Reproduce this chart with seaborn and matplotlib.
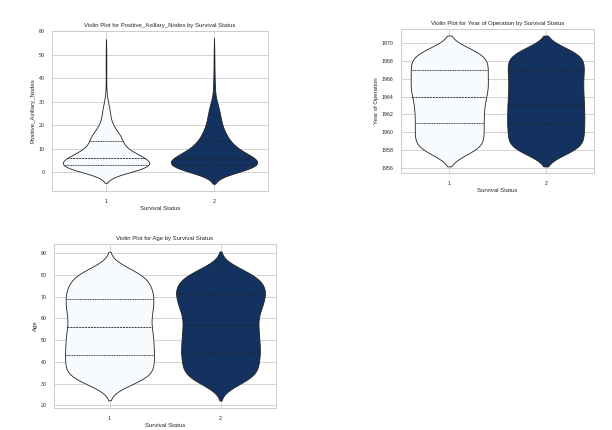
import numpy as np
import pandas as pd
import seaborn as sns
import matplotlib.pyplot as plt

sns.set_style("whitegrid")
plt.rcParams["font.family"] = ["Liberation Sans", "DejaVu Sans"]

status_levels = [1, 2]

# frequency tables (value -> number of patients)
nodes_values_1 = list(range(0, 33)) + [34, 38, 43, 47, 52]
nodes_counts_1 = [24, 30, 36, 39, 36, 33, 30, 25, 21, 18, 15, 12, 10, 14, 13, 12,
                  10, 9, 7, 6, 5, 4, 4, 3, 3, 3, 3, 3, 2, 2, 1, 1, 1, 1, 1, 1, 1, 1]
nodes_values_2 = list(range(0, 32)) + [33, 35, 37, 40, 42, 45, 48, 52]
nodes_counts_2 = [24, 30, 36, 37, 36, 36, 34, 24, 22, 20, 17, 14, 13, 12, 11, 10,
                  8, 8, 7, 7, 6, 5, 5, 5, 5, 4, 4, 4, 3, 3, 2, 2, 2, 1, 2, 1, 1, 1, 1, 1]

year_values = list(range(1958, 1970))
year_counts_1 = [62, 62, 62, 62, 62, 63, 66, 72, 68, 70, 70, 66]
year_counts_2 = [65, 65, 65, 67, 66, 66, 65, 64, 64, 66, 66, 65]

age_values = list(range(30, 84))
age_counts_1 = [19, 19, 21, 19, 21, 19, 21, 20, 21, 20,
                21, 20, 21, 20, 21, 20, 20, 21, 20, 20,
                21, 20, 20, 20, 20, 20, 19, 19, 19, 18,
                19, 19, 20, 20, 20, 20, 20, 21, 20, 21,
                20, 21, 20, 20, 20, 19, 19, 18, 18, 17,
                17, 16, 16, 15]
age_counts_2 = [16, 16, 17, 17, 17, 17, 18, 18, 18, 18,
                18, 18, 18, 18, 19, 19, 19, 19, 18, 18,
                18, 18, 18, 18, 18, 18, 18, 18, 17, 17,
                17, 17, 17, 19, 19, 20, 20, 21, 20, 20,
                20, 22, 22, 22, 22, 21, 21, 20, 19, 18,
                17, 16, 15, 14]


def long_table(column, values_1, counts_1, values_2, counts_2):
    v1 = np.repeat(values_1, counts_1)
    v2 = np.repeat(values_2, counts_2)
    return pd.DataFrame({
        "Survival_Status": [status_levels[0]] * len(v1) + [status_levels[1]] * len(v2),
        column: np.concatenate([v1, v2]),
    })


panels = [
    ("Positive_Axillary_Nodes", "Positive_Axillary_Nodes",
     long_table("Positive_Axillary_Nodes", nodes_values_1, nodes_counts_1, nodes_values_2, nodes_counts_2),
     [52 / 612, 1 - 191 / 430, 216 / 612, 160 / 430]),
    ("Year_of_Operation", "Year of Operation",
     long_table("Year_of_Operation", year_values, year_counts_1, year_values, year_counts_2),
     [401 / 612, 1 - 173 / 430, 193 / 612, 144 / 430]),
    ("Age", "Age",
     long_table("Age", age_values, age_counts_1, age_values, age_counts_2),
     [54 / 612, 1 - 408 / 430, 222 / 612, 164 / 430]),
]

fig = plt.figure(figsize=(6.12, 4.30), dpi=100)

for col, label, df, rect in panels:
    ax = fig.add_axes(rect)
    sns.violinplot(data=df, x="Survival_Status", y=col, hue="Survival_Status",
                   palette="Blues", inner="quartile", legend=False,
                   linewidth=0.6, ax=ax)
    ax.set_title(f"Violin Plot for {label} by Survival Status", fontsize=4.3, pad=3)
    ax.set_xlabel("Survival Status", fontsize=4.3, labelpad=2)
    ax.set_ylabel(label, fontsize=4.3, labelpad=2)
    ax.tick_params(labelsize=3.8, pad=2)
    ax.grid(linewidth=0.6)
    for s in ax.spines.values():
        s.set_linewidth(0.7)

fig.savefig("out.png", dpi=100)
